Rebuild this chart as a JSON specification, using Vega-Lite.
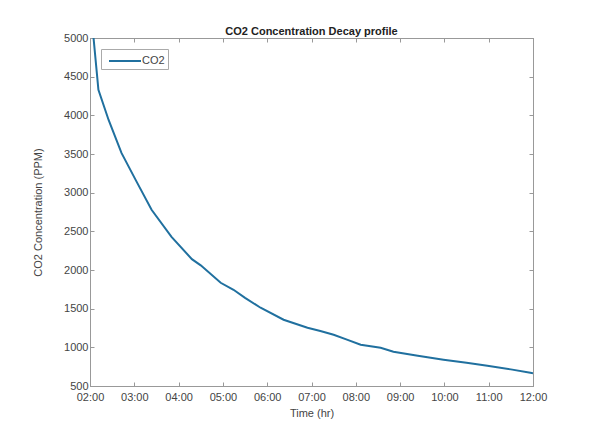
{
  "$schema": "https://vega.github.io/schema/vega-lite/v6.json",
  "autosize": {"type": "none"},
  "padding": {"left": 90, "top": 38, "right": 57, "bottom": 46},
  "width": 443,
  "height": 348,
  "background": "white",
  "title": {"text": "CO2 Concentration Decay profile", "fontSize": 11, "fontWeight": "bold", "font": "Liberation Sans", "color": "#222", "offset": 5, "dy": 40},
  "data": {"values": [
    {"hours": 2.0, "co2": 5460, "series": "CO2"},
    {"hours": 2.08, "co2": 5000, "series": "CO2"},
    {"hours": 2.19, "co2": 4330, "series": "CO2"},
    {"hours": 2.42, "co2": 3940, "series": "CO2"},
    {"hours": 2.71, "co2": 3514, "series": "CO2"},
    {"hours": 3.03, "co2": 3165, "series": "CO2"},
    {"hours": 3.39, "co2": 2778, "series": "CO2"},
    {"hours": 3.84, "co2": 2429, "series": "CO2"},
    {"hours": 4.3, "co2": 2140, "series": "CO2"},
    {"hours": 4.5, "co2": 2060, "series": "CO2"},
    {"hours": 4.95, "co2": 1835, "series": "CO2"},
    {"hours": 5.24, "co2": 1744, "series": "CO2"},
    {"hours": 5.5, "co2": 1640, "series": "CO2"},
    {"hours": 5.85, "co2": 1512, "series": "CO2"},
    {"hours": 6.37, "co2": 1357, "series": "CO2"},
    {"hours": 6.91, "co2": 1253, "series": "CO2"},
    {"hours": 7.2, "co2": 1210, "series": "CO2"},
    {"hours": 7.5, "co2": 1163, "series": "CO2"},
    {"hours": 7.8, "co2": 1100, "series": "CO2"},
    {"hours": 8.11, "co2": 1034, "series": "CO2"},
    {"hours": 8.56, "co2": 995, "series": "CO2"},
    {"hours": 8.85, "co2": 943, "series": "CO2"},
    {"hours": 9.4, "co2": 890, "series": "CO2"},
    {"hours": 9.98, "co2": 840, "series": "CO2"},
    {"hours": 10.5, "co2": 800, "series": "CO2"},
    {"hours": 10.97, "co2": 762, "series": "CO2"},
    {"hours": 11.5, "co2": 715, "series": "CO2"},
    {"hours": 11.94, "co2": 672, "series": "CO2"},
    {"hours": 12.0, "co2": 665, "series": "CO2"}
  ]},
  "layer": [
    {
      "mark": {"type": "line", "strokeWidth": 2, "clip": true},
      "encoding": {
        "x": {"field": "hours", "type": "quantitative", "scale": {"domain": [2, 12], "nice": false, "zero": false},
          "axis": {"title": "Time (hr)", "values": [2,3,4,5,6,7,8,9,10,11,12], "labelExpr": "(datum.value < 10 ? '0' : '') + datum.value + ':00'", "orient": "bottom", "tickSize": -4, "labelPadding": 9, "titlePadding": 5, "labelFlush": false}},
        "y": {"field": "co2", "type": "quantitative", "scale": {"domain": [500, 5000], "nice": false, "zero": false},
          "axis": {"title": "CO2 Concentration (PPM)", "format": "d", "values": [500,1000,1500,2000,2500,3000,3500,4000,4500,5000], "orient": "left", "tickSize": -4, "labelPadding": 6, "titlePadding": 20, "labelFlush": false}},
        "color": {"field": "series", "type": "nominal", "scale": {"range": ["#20709f"]},
          "legend": {"title": null, "orient": "top-left", "offset": 11, "strokeColor": "#aaaaaa", "fillColor": "white", "padding": 3, "symbolType": "M-2,0H2", "symbolSize": 256, "symbolStrokeWidth": 2, "symbolOffset": 12, "labelFontSize": 11, "labelColor": "#444", "labelFont": "Liberation Sans", "labelOffset": 8}}
      }
    },
    {
      "mark": {"type": "line", "opacity": 0},
      "encoding": {
        "x": {"field": "hours", "type": "quantitative", "scale": {"domain": [2, 12], "nice": false, "zero": false},
          "axis": {"title": null, "values": [2,3,4,5,6,7,8,9,10,11,12], "labels": false, "orient": "top", "tickSize": -4}},
        "y": {"field": "co2", "type": "quantitative", "scale": {"domain": [500, 5000], "nice": false, "zero": false},
          "axis": {"title": null, "values": [500,1000,1500,2000,2500,3000,3500,4000,4500,5000], "labels": false, "orient": "right", "tickSize": -4}}
      }
    }
  ],
  "resolve": {"axis": {"x": "independent", "y": "independent"}},
  "config": {
    "view": {"stroke": "#999999"},
    "axis": {"grid": false, "domainColor": "#999999", "tickColor": "#999999", "labelColor": "#444444", "titleColor": "#444444", "labelFont": "Liberation Sans", "titleFont": "Liberation Sans", "labelFontSize": 11, "titleFontSize": 11, "titleFontWeight": "normal"}
  }
}
